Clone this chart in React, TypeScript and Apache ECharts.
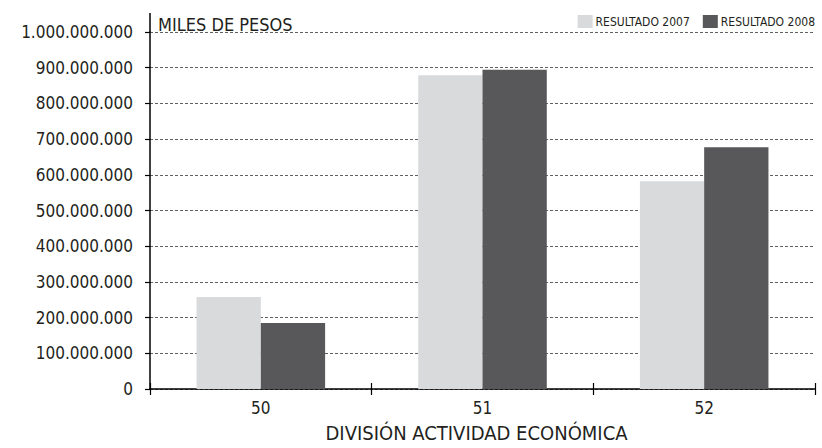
import React, { useEffect, useRef } from "react";
import * as echarts from "echarts";

const categories = ["50", "51", "52"];
const resultado2007 = [258000000, 879000000, 582000000];
const resultado2008 = [185000000, 894000000, 677000000];
const seriesNames = ["RESULTADO 2007", "RESULTADO 2008"];
const yAxisTitle = "MILES DE PESOS";
const xAxisTitle = "DIVISIÓN ACTIVIDAD ECONÓMICA";

const FONT = "'Liberation Sans Narrow', 'DejaVu Sans Condensed', 'Arial Narrow', sans-serif";
const TEXT = "#231f20";

function fmt(v: number): string {
  return String(Math.round(v)).replace(/\B(?=(\d{3})+(?!\d))/g, ".");
}

export default function App() {
  const ref = useRef<HTMLDivElement>(null);
  useEffect(() => {
    if (!ref.current) return;
    const chart = echarts.init(ref.current, null, { renderer: "svg" });
    chart.setOption({
      animation: false,
      backgroundColor: "#ffffff",
      textStyle: { fontFamily: FONT, color: TEXT },
      title: {
        text: yAxisTitle,
        left: 153,
        top: 10,
        textStyle: { fontFamily: FONT, fontSize: 18, fontWeight: "normal", color: TEXT },
      },
      legend: {
        right: 2,
        top: 10,
        itemWidth: 15,
        itemHeight: 13,
        itemGap: 13,
        icon: "rect",
        textStyle: { fontFamily: FONT, fontSize: 12, color: TEXT, padding: [0, 0, 0, -2] },
        data: seriesNames,
      },
      grid: { left: 150, right: 7, top: 32, bottom: 57, containLabel: false },
      xAxis: [
        {
          type: "category",
          data: categories,
          position: "bottom",
          axisLine: { show: true, lineStyle: { color: "#000", width: 1.5 } },
          axisTick: { show: true, length: 6, lineStyle: { color: "#000", width: 1.2 } },
          axisLabel: { fontFamily: FONT, fontSize: 17, color: TEXT, margin: 10 },
          name: xAxisTitle,
          nameLocation: "middle",
          nameGap: 34,
          nameTextStyle: { fontFamily: FONT, fontSize: 20, color: TEXT, padding: [0, 12, 0, 0] },
        },
        {
          type: "category",
          data: categories,
          position: "bottom",
          axisLine: { show: false },
          axisTick: { show: true, inside: true, length: 6, lineStyle: { color: "#000", width: 1.2 } },
          axisLabel: { show: false },
          splitLine: { show: false },
        },
      ],
      yAxis: {
        type: "value",
        min: 0,
        max: 1000000000,
        interval: 100000000,
        axisLine: { show: true, lineStyle: { color: "#000", width: 1.5 } },
        axisTick: { show: true, length: 5, lineStyle: { color: "#000", width: 1.2 } },
        axisLabel: {
          fontFamily: FONT,
          fontSize: 17,
          color: TEXT,
          margin: 17,
          formatter: (v: number) => fmt(v),
        },
        splitLine: { show: true, lineStyle: { color: "#5f6062", type: [3, 2], width: 1 } },
      },
      graphic: [
        {
          type: "line",
          shape: { x1: 150, y1: 13, x2: 150, y2: 32 },
          style: { stroke: "#000", lineWidth: 1.5 },
          z: 10,
        },
      ],
      series: [
        {
          name: seriesNames[0],
          type: "bar",
          data: resultado2007,
          barGap: "0%",
          barCategoryGap: "42%",
          itemStyle: { color: "#d9dadb" },
        },
        {
          name: seriesNames[1],
          type: "bar",
          data: resultado2008,
          barGap: "0%",
          barCategoryGap: "42%",
          itemStyle: { color: "#58585a" },
        },
      ],
    });
    return () => chart.dispose();
  }, []);
  return (
    <div
      ref={ref}
      style={{ position: "fixed", left: 0, top: 0, width: 822, height: 448, background: "#fff" }}
    />
  );
}
